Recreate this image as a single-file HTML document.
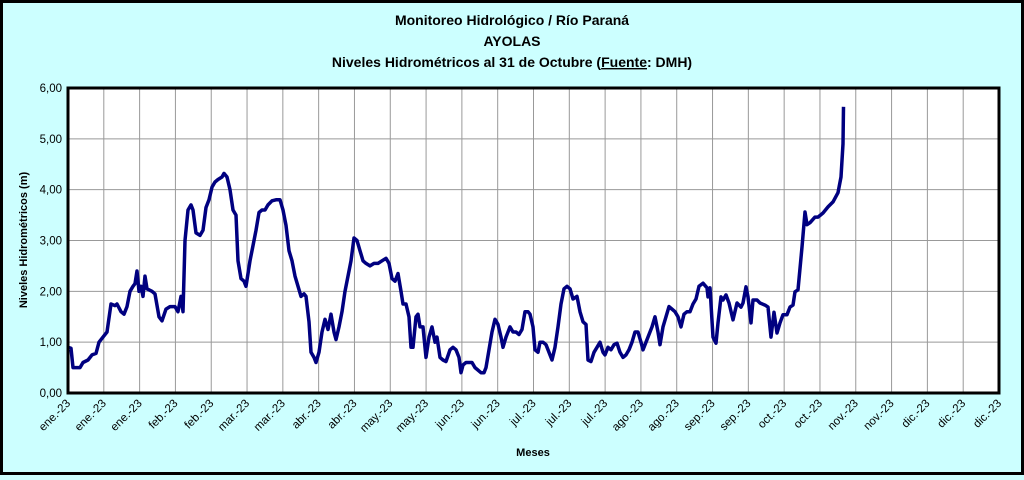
<!DOCTYPE html>
<html><head><meta charset="utf-8"><style>
html,body{margin:0;padding:0;background:#ccffff;}
body{width:1024px;height:475px;overflow:hidden;font-family:"Liberation Sans",sans-serif;}
</style></head><body>
<svg id="s" width="1024" height="475" xmlns="http://www.w3.org/2000/svg" font-family="Liberation Sans, sans-serif">
<rect x="1.5" y="1.5" width="1021" height="472" fill="#ccffff" stroke="#000" stroke-width="3"/>
<text x="512" y="25" text-anchor="middle" font-size="14" font-weight="bold">Monitoreo Hidrológico / Río Paraná</text>
<text x="512" y="46" text-anchor="middle" font-size="14" font-weight="bold">AYOLAS</text>
<text x="512" y="67" text-anchor="middle" font-size="14" font-weight="bold">Niveles Hidrométricos al 31 de Octubre (<tspan text-decoration="underline">Fuente</tspan>: DMH)</text>
<rect x="68" y="88" width="931" height="305" fill="#fff"/>
<g id="grid" stroke="#999" stroke-width="1"></g>
<polyline id="line" fill="none" stroke="#000080" stroke-width="3.5" stroke-linejoin="round"/>
<rect x="68" y="88" width="931" height="305" fill="none" stroke="#000" stroke-width="3"/>
<g id="lab" font-size="11.5" fill="#000"></g>
<text x="27" y="240" text-anchor="middle" font-size="11" font-weight="bold" transform="rotate(-90 27 240)">Niveles Hidrométricos (m)</text>
<text x="533" y="456" text-anchor="middle" font-size="11" font-weight="bold">Meses</text>
</svg>
<script>
var ns="http://www.w3.org/2000/svg",g=document.getElementById('grid'),L=document.getElementById('lab');
function el(t,a,p,txt){var e=document.createElementNS(ns,t);for(var k in a)e.setAttribute(k,a[k]);if(txt)e.textContent=txt;p.appendChild(e);}
var X0=68,X1=999,Y0=393,U=305/6;
for(var i=0;i<=6;i++){var y=Y0-i*U;el('line',{x1:X0,x2:X1,y1:y,y2:y},g);el('text',{x:X0-6,y:y+4,'text-anchor':'end'},L,i+',00');}
var m=['ene','ene','ene','feb','feb','mar','mar','abr','abr','may','may','jun','jun','jul','jul','jul','ago','ago','sep','sep','oct','oct','nov','nov','dic','dic','dic'];
for(var i=0;i<27;i++){var x=X0+i*(X1-X0)/26;el('line',{x1:x,x2:x,y1:88,y2:Y0},g);
el('text',{x:x+3,y:404,'text-anchor':'end',transform:'rotate(-45 '+(x+3)+' 404)'},L,m[i]+'.-23');}
var d=[68,0.9,71,0.88,73,0.5,80,0.5,83,0.6,88,0.65,92,0.75,96,0.78,99,1.0,103,1.1,107,1.2,111,1.75,115,1.72,117,1.75,121,1.6,124,1.55,127,1.7,130,2.0,133,2.1,135,2.15,137,2.4,139,2.0,141,2.1,143,1.9,145,2.3,147,2.05,152,2.0,155,1.95,159,1.5,162,1.42,166,1.65,170,1.7,175,1.7,178,1.6,181,1.9,183,1.6,185,3.0,188,3.6,191,3.7,193,3.6,196,3.15,200,3.1,203,3.2,206,3.65,209,3.8,212,4.05,215,4.15,218,4.2,222,4.25,224,4.32,227,4.25,230,4.0,233,3.6,236,3.5,238,2.6,241,2.25,244,2.2,246,2.1,250,2.6,253,2.9,256,3.2,259,3.55,262,3.6,265,3.6,268,3.7,272,3.78,276,3.8,280,3.8,283,3.6,286,3.3,289,2.8,292,2.6,295,2.3,298,2.1,301,1.9,304,1.95,306,1.9,309,1.4,311,0.8,314,0.7,316,0.6,319,0.8,322,1.2,325,1.45,328,1.25,331,1.55,334,1.2,336,1.05,339,1.3,342,1.6,345,2.0,348,2.3,351,2.6,354,3.05,357,3.0,360,2.8,363,2.6,366,2.55,370,2.5,374,2.55,378,2.55,382,2.6,386,2.65,389,2.55,392,2.25,395,2.2,398,2.35,401,2.0,403,1.75,406,1.75,409,1.5,411,0.9,413,0.9,416,1.5,418,1.55,420,1.3,423,1.3,426,0.7,429,1.1,432,1.3,435,1.0,437,1.1,440,0.7,443,0.65,446,0.62,450,0.85,453,0.9,456,0.85,459,0.7,461,0.4,463,0.55,466,0.6,469,0.6,472,0.6,475,0.5,478,0.45,481,0.4,484,0.4,486,0.5,489,0.85,492,1.2,495,1.45,498,1.35,501,1.1,503,0.9,506,1.1,508,1.2,510,1.3,513,1.2,516,1.2,519,1.15,522,1.25,525,1.6,528,1.6,530,1.55,533,1.3,535,0.85,538,0.8,540,1.0,543,1.0,546,0.95,549,0.8,552,0.65,555,0.9,558,1.3,561,1.75,564,2.05,567,2.1,570,2.05,573,1.85,577,1.9,580,1.6,583,1.4,586,1.35,588,0.65,591,0.62,594,0.8,597,0.9,600,1.0,603,0.8,605,0.75,608,0.9,611,0.85,614,0.95,617,0.98,620,0.8,623,0.7,626,0.75,629,0.85,632,1.0,635,1.2,638,1.2,641,1.0,643,0.85,646,1.0,649,1.15,652,1.3,655,1.5,658,1.2,660,0.95,663,1.3,666,1.5,669,1.7,672,1.65,675,1.6,678,1.5,681,1.3,684,1.55,687,1.6,690,1.6,693,1.75,696,1.85,699,2.1,703,2.16,707,2.07,708,1.89,710,2.07,713,1.1,716,0.98,718,1.38,721,1.89,723,1.83,726,1.93,729,1.77,733,1.44,737,1.77,741,1.69,743,1.77,746,2.09,748,1.89,751,1.38,753,1.83,757,1.83,760,1.77,765,1.73,768,1.69,771,1.1,774,1.59,777,1.18,780,1.38,783,1.54,787,1.54,790,1.69,793,1.73,795,1.99,798,2.03,802,2.87,805,3.56,807,3.31,810,3.35,815,3.46,818,3.46,823,3.54,828,3.66,833,3.76,838,3.94,841,4.25,843,4.9,843.5,5.63];
var p=[];for(var i=0;i<d.length;i+=2)p.push(d[i]+','+(Y0-d[i+1]*U).toFixed(1));
document.getElementById('line').setAttribute('points',p.join(' '));
</script>
</body></html>
